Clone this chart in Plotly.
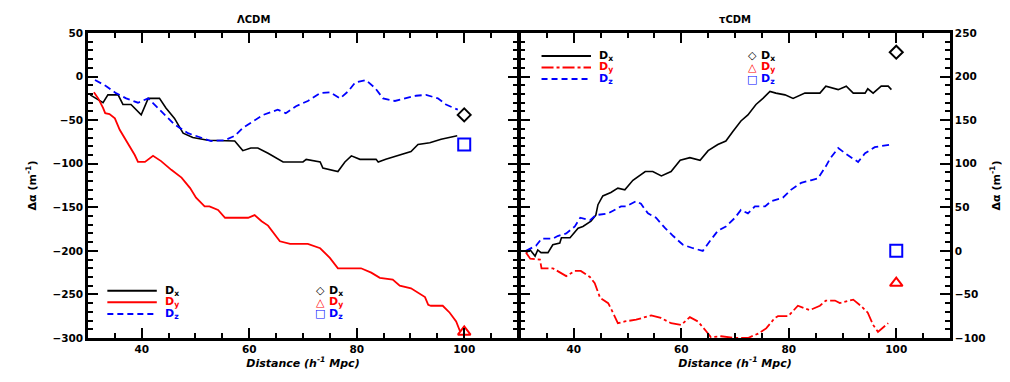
import plotly.graph_objects as go

# left panel curves (x in h^-1 Mpc)
L_BLACK_X = [30.4, 32.8, 33.7, 35.6, 36.5, 38.0, 39.9, 41.2, 43.3, 44.5, 46.1, 47.7, 49.5, 52.3, 57.3,
             58.8, 60.3, 61.6, 63.5, 66.3, 70.0, 70.6, 73.2, 73.7, 76.5, 77.8, 79.0, 80.6, 83.6, 84.0,
             85.4, 87.7, 90.1, 91.4, 93.6, 95.7, 98.7]
L_BLACK_Y = [-21, -30, -21, -21, -32, -32, -44, -25, -25, -36, -48, -65, -70, -73, -74,
             -85, -82, -82, -88, -98, -98, -95, -98, -105, -109, -98, -91, -95, -95, -98,
             -95, -91, -86, -78, -76, -72, -68]

L_RED_X = [31.1, 31.9, 32.8, 33.2, 34.0, 35.0, 35.9, 36.8, 37.8, 38.7, 39.3, 40.6, 42.1, 43.6, 45.5,
           47.4, 49.0, 50.1, 51.7, 52.6, 54.2, 55.5, 59.8, 61.0, 62.3, 63.5, 65.7, 67.6, 70.9, 73.2,
           75.0, 76.5, 80.8, 82.7, 84.3, 86.7, 88.0, 90.1, 92.7, 93.3, 93.8, 96.0, 97.3, 98.5, 99.2]
L_RED_Y = [-18, -25, -36, -42, -43, -48, -61, -70, -80, -90, -98, -98, -91, -97, -107,
           -116, -128, -139, -149, -149, -153, -162, -162, -159, -166, -171, -189, -192, -192, -197,
           -208, -220, -220, -225, -231, -233, -240, -243, -253, -262, -263, -263, -271, -281, -292]

L_BLUE_X = [31.3, 33.4, 35.2, 37.1, 39.3, 41.2, 43.0, 44.3, 46.1, 48.6, 50.1, 52.9, 55.5, 57.3, 58.8,
            61.0, 62.6, 65.3, 66.8, 68.7, 70.9, 73.2, 75.0, 76.9, 78.4, 79.7, 81.7, 83.4, 84.9, 87.1,
            89.0, 91.0, 92.9, 95.1, 96.6, 98.8]
L_BLUE_Y = [-4, -11, -19, -25, -30, -25, -36, -44, -55, -65, -68, -74, -73, -68, -59,
            -50, -44, -38, -42, -34, -28, -19, -18, -25, -17, -7, -4, -13, -25, -28,
            -25, -22, -21, -25, -32, -38]

# right panel curves
R_BLACK_X = [31.1, 31.9, 32.8, 33.3, 33.9, 35.2, 36.1, 37.4, 37.7, 39.3, 40.8, 41.7, 43.2, 44.1, 44.5,
             45.4, 46.9, 48.2, 49.5, 51.0, 53.3, 54.7, 56.3, 58.1, 59.8, 61.6, 63.5, 65.0, 66.8, 68.3,
             69.6, 71.1, 72.4, 73.9, 75.2, 76.5, 77.6, 79.3, 80.8, 83.0, 85.8, 86.9, 89.2, 90.7, 92.0,
             94.2, 94.7, 95.7, 97.2, 98.5, 99.1]
R_BLACK_Y = [-2, 1, -6, 1, -2, -2, 7, 9, 15, 15, 26, 28, 34, 41, 53,
             63, 67, 72, 70, 81, 91, 91, 86, 91, 104, 107, 104, 115, 122, 126,
             137, 149, 156, 168, 175, 183, 181, 179, 175, 181, 181, 189, 185, 189, 181,
             181, 186, 181, 189, 189, 185]

R_RED_X = [31.1, 31.9, 33.7, 34.0, 36.1, 37.4, 38.6, 40.2, 41.3, 43.0, 43.9, 44.9, 46.4, 47.3, 48.2,
           49.5, 51.6, 54.4, 56.2, 58.1, 60.0, 61.6, 63.1, 64.6, 65.5, 67.4, 70.0, 72.4, 74.3, 75.8,
           77.4, 78.0, 79.9, 81.7, 83.9, 85.8, 86.9, 88.6, 89.5, 92.0, 93.4, 94.7, 95.7, 96.6, 98.5]
R_RED_Y = [-2, -9, -10, -20, -20, -25, -29, -23, -23, -30, -37, -54, -60, -71, -83,
           -81, -79, -74, -77, -83, -85, -76, -81, -92, -99, -98, -100, -100, -95, -89,
           -77, -75, -75, -63, -68, -63, -57, -57, -60, -56, -63, -71, -85, -93, -83]

R_BLUE_X = [31.1, 33.0, 34.0, 36.1, 37.0, 38.6, 40.2, 41.2, 43.0, 44.1, 46.4, 48.8, 49.7, 51.6, 52.5,
            53.8, 55.3, 57.0, 58.5, 60.3, 62.2, 64.0, 65.3, 66.8, 68.3, 70.0, 71.1, 72.4, 73.7, 75.6,
            76.7, 78.9, 80.4, 82.3, 84.1, 85.4, 86.9, 87.7, 89.2, 90.7, 92.9, 94.2, 96.0, 98.1, 99.0]
R_BLUE_Y = [0, 6, 14, 14, 17, 20, 28, 38, 35, 41, 43, 51, 51, 57, 54,
            43, 38, 26, 17, 7, 3, 0, 11, 23, 28, 38, 47, 43, 51, 51,
            57, 61, 70, 78, 81, 83, 97, 106, 118, 111, 102, 112, 119, 121, 122]

# single points at 100 h^-1 Mpc
PT_X = 100
L_PTS = [-44, -293, -78]   # diamond, triangle, square
R_PTS = [228, -37, 0]

TITLES = ["ΛCDM", "τCDM"]
LEG_LABELS = ["D<sub>x</sub>", "D<sub>y</sub>", "D<sub>z</sub>"]
X_TICKS = [40, 60, 80, 100]
L_Y_TICKS = [50, 0, -50, -100, -150, -200, -250, -300]
R_Y_TICKS = [250, 200, 150, 100, 50, 0, -50, -100]

BLACK, RED, BLUE = "#000000", "#ff0000", "#0000ff"
TICKFONT = dict(family="DejaVu Sans", size=10.5, color="black", weight="bold")

fig = go.Figure()

def line(x, y, color, dash, xa, ya, w=1.6):
    fig.add_trace(go.Scatter(x=x, y=y, mode="lines", xaxis=xa, yaxis=ya,
                             line=dict(color=color, width=w, dash=dash),
                             showlegend=False, hoverinfo="skip"))

line(L_BLACK_X, L_BLACK_Y, BLACK, "solid", "x", "y")
line(L_RED_X, L_RED_Y, RED, "solid", "x", "y", 1.8)
line(L_BLUE_X, L_BLUE_Y, BLUE, "7px,4px", "x", "y", 1.8)
line(R_BLACK_X, R_BLACK_Y, BLACK, "solid", "x2", "y2")
line(R_RED_X, R_RED_Y, RED, "12px,3px,3px,3px", "x2", "y2", 1.8)
line(R_BLUE_X, R_BLUE_Y, BLUE, "7px,4px", "x2", "y2", 1.8)

SYMS = ["diamond-open", "triangle-up-open", "square-open"]
COLS = [BLACK, RED, BLUE]
SIZES = [10, 11, 12]
for xa, ya, pts in [("x", "y", L_PTS), ("x2", "y2", R_PTS)]:
    for s, c, v, sz in zip(SYMS, COLS, pts, SIZES):
        fig.add_trace(go.Scatter(x=[PT_X], y=[v], mode="markers", xaxis=xa, yaxis=ya,
                                 marker=dict(symbol=s, color=c, size=sz, line=dict(width=2, color=c)),
                                 showlegend=False, cliponaxis=False, hoverinfo="skip"))

# legends drawn in axis-domain coordinates
def line_legend(xa, ya, x0, y0, dashes):
    for i, (c, d) in enumerate(zip(COLS, dashes)):
        yy = y0 - i * 0.038
        fig.add_shape(type="line", xref=f"{xa} domain", yref=f"{ya} domain",
                      x0=x0, x1=x0 + 0.115, y0=yy, y1=yy, line=dict(color=c, width=2, dash=d))
        fig.add_annotation(xref=f"{xa} domain", yref=f"{ya} domain", x=x0 + 0.13, y=yy,
                           text=LEG_LABELS[i], showarrow=False, xanchor="left", yanchor="middle",
                           font=dict(family="DejaVu Sans", size=11, color=c, weight="bold"))

def marker_legend(xa, ya, x0, y0):
    sym_txt = ["◇", "△", "□"]
    for i, c in enumerate(COLS):
        yy = y0 - i * 0.038
        fig.add_annotation(xref=f"{xa} domain", yref=f"{ya} domain", x=x0, y=yy,
                           text=sym_txt[i], showarrow=False, xanchor="center", yanchor="middle",
                           font=dict(family="DejaVu Sans", size=11, color=c, weight="bold"))
        fig.add_annotation(xref=f"{xa} domain", yref=f"{ya} domain", x=x0 + 0.015, y=yy,
                           text=LEG_LABELS[i], showarrow=False, xanchor="left", yanchor="middle",
                           font=dict(family="DejaVu Sans", size=11, color=c, weight="bold"))

line_legend("x", "y", 0.045, 0.155, ["solid", "solid", "6px,4px"])
marker_legend("x", "y", 0.54, 0.155)
line_legend("x2", "y2", 0.05, 0.925, ["solid", "12px,3px,3px,3px", "6px,4px"])
marker_legend("x2", "y2", 0.54, 0.925)

# panel titles (left one sits a bit left of centre in the original)
for i, (t, tx) in enumerate(zip(TITLES, [0.385, 0.5])):
    fig.add_annotation(xref=("x" if i == 0 else "x2") + " domain", yref="paper", x=tx, y=1.0,
                       yshift=14, text=t, showarrow=False, xanchor="center", yanchor="middle",
                       font=dict(family="DejaVu Sans", size=10, color="black", weight="bold"))

common_x = dict(range=[30, 110], tickvals=X_TICKS, ticks="inside", ticklen=10, tickwidth=2,
                tickcolor="black", showline=True, linewidth=2.5, linecolor="black", mirror="ticks",
                showgrid=False, zeroline=False, tickfont=TICKFONT,
                minor=dict(dtick=5, tick0=30, ticks="inside", ticklen=5, tickwidth=2, tickcolor="black"),
                title=dict(text="<i>Distance (h<sup>-1</sup> Mpc)</i>", standoff=2,
                           font=dict(family="DejaVu Sans", size=11, color="black", weight="bold")))
common_y = dict(ticks="inside", ticklen=10, tickwidth=2, tickcolor="black", showline=True,
                linewidth=2.5, linecolor="black", mirror="ticks", showgrid=False, zeroline=False,
                tickfont=TICKFONT,
                minor=dict(dtick=10, ticks="inside", ticklen=5, tickwidth=2, tickcolor="black"))
ytitle = dict(text="Δα (m<sup>-1</sup>)",
              font=dict(family="DejaVu Sans", size=11, color="black", weight="bold"))

fig.update_layout(
    width=1010, height=382,
    margin=dict(l=80, r=68, t=25, b=52),
    paper_bgcolor="white", plot_bgcolor="white",
    showlegend=False,
    xaxis=dict(domain=[0, 0.4988], anchor="y", **common_x),
    xaxis2=dict(domain=[0.5012, 1], anchor="y2", **common_x),
    yaxis=dict(domain=[0, 1], anchor="x", range=[-300, 50], tickvals=L_Y_TICKS, side="left",
               title=dict(standoff=14, **ytitle), **common_y),
    yaxis2=dict(domain=[0, 1], anchor="x2", range=[-100, 250], tickvals=R_Y_TICKS, side="right",
                title=dict(standoff=8, **ytitle), **common_y),
)

fig.write_html("out.html")
